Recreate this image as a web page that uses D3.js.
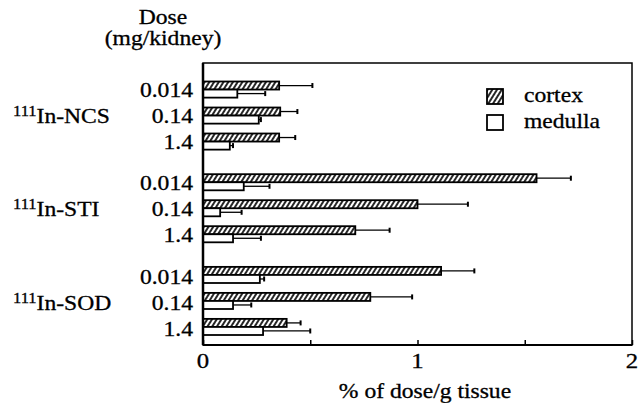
<!DOCTYPE html>
<html><head><meta charset="utf-8">
<script src="https://cdn.jsdelivr.net/npm/d3@7"></script>
<style>
html,body{margin:0;padding:0;background:#fff;}
svg{display:block;}
text{font-family:"Liberation Serif","Times New Roman",serif;fill:#000;stroke:#000;stroke-width:0.3px;}
</style></head>
<body><svg id="c" width="641" height="403"></svg>
<script>
// ---- data ----
const groups = ["NCS", "STI", "SOD"];
const doses = ["0.014", "0.14", "1.4"];
const series = ["cortex", "medulla"];
const cortexMean = [0.355, 0.36, 0.355, 1.555, 1.0, 0.71, 1.11, 0.78, 0.39];
const cortexErr  = [0.155, 0.08, 0.075, 0.16, 0.235, 0.16, 0.155, 0.195, 0.065];
const medullaMean = [0.16, 0.26, 0.125, 0.19, 0.08, 0.14, 0.265, 0.14, 0.28];
const medullaErr  = [0.13, 0.01, 0.015, 0.12, 0.10, 0.13, 0.02, 0.085, 0.22];
const xTicks = [0, 1, 2];
const xMinorTicks = [0.5, 1.5];
const xTitle = "% of dose/g tissue";
const yTitle1 = "Dose";
const yTitle2 = "(mg/kidney)";

// ---- layout ----
const svg = d3.select("#c");
const SX = 1.18; // horizontal text stretch
const FS = 20;
const pL = 203, pR = 632, pT = 63, pB = 345;

const x = d3.scaleLinear().domain([0, 2]).range([pL, pR]);
const yGroup = d3.scaleBand().domain(groups).range([81.5, 335]).paddingInner(0.265).paddingOuter(0);
const yDose = d3.scaleBand().domain(doses).range([0, yGroup.bandwidth()]).paddingInner(0.38).paddingOuter(0);
const ySer = d3.scaleBand().domain(series).range([0, yDose.bandwidth()]);

const defs = svg.append("defs");
const pat = defs.append("pattern").attr("id", "hatch").attr("patternUnits", "userSpaceOnUse")
  .attr("width", 4).attr("height", 4).attr("patternTransform", "rotate(32)");
pat.append("rect").attr("width", 4).attr("height", 4).attr("fill", "#fff");
pat.append("line").attr("x1", 1).attr("x2", 1).attr("y1", 0).attr("y2", 4)
  .attr("stroke", "#000").attr("stroke-width", 1.7);

function txt(xp, yp, s, anchor, size) {
  return svg.append("text")
    .attr("transform", `translate(${xp},${yp}) scale(${SX},1)`)
    .attr("text-anchor", anchor || "start")
    .attr("font-size", size || FS)
    .text(s);
}

// records
const recs = [];
groups.forEach((g, gi) => doses.forEach((d, di) => {
  const i = gi * 3 + di;
  recs.push({g, d, s: "cortex", v: cortexMean[i], e: cortexErr[i]});
  recs.push({g, d, s: "medulla", v: medullaMean[i], e: medullaErr[i]});
}));
const yPos = r => yGroup(r.g) + yDose(r.d) + ySer(r.s);
const bh = ySer.bandwidth();

// error bars
const eb = svg.append("g").attr("stroke", "#000").attr("stroke-width", 1.3);
recs.forEach(r => {
  const yc = yPos(r) + bh / 2;
  eb.append("line").attr("x1", x(r.v)).attr("x2", x(r.v + r.e)).attr("y1", yc).attr("y2", yc);
  eb.append("line").attr("x1", x(r.v + r.e)).attr("x2", x(r.v + r.e))
    .attr("y1", yc - 2.5).attr("y2", yc + 2.5).attr("stroke-width", 2);
});

// bars
svg.append("g").selectAll("rect").data(recs).join("rect")
  .attr("x", x(0)).attr("y", d => yPos(d))
  .attr("width", d => x(d.v) - x(0)).attr("height", bh)
  .attr("fill", d => d.s === "cortex" ? "url(#hatch)" : "#fff")
  .attr("stroke", "#000").attr("stroke-width", 1.8);

// frame
svg.append("rect").attr("x", pL).attr("y", pT).attr("width", pR - pL).attr("height", pB - pT)
  .attr("fill", "none").attr("stroke", "#000").attr("stroke-width", 1.5);
svg.append("line").attr("x1", pL).attr("x2", pL).attr("y1", pT).attr("y2", pB)
  .attr("stroke", "#000").attr("stroke-width", 2.5);
svg.append("line").attr("x1", pL).attr("x2", pR).attr("y1", pB).attr("y2", pB)
  .attr("stroke", "#000").attr("stroke-width", 2.2);

// x axis ticks (inward)
const xa = svg.append("g").attr("transform", `translate(0,${pB})`)
  .call(d3.axisBottom(x).tickValues(xTicks.concat(xMinorTicks)).tickSize(-5).tickFormat(""));
xa.select(".domain").remove();
xa.selectAll("line").attr("stroke", "#000").attr("stroke-width", 1.5);
xTicks.forEach(t => txt(x(t), 368, String(t), "middle", 21));
txt(425, 398, xTitle, "middle", 20);

// y labels
groups.forEach((g, gi) => doses.forEach(d => {
  txt(193, yGroup(g) + yDose(d) + yDose.bandwidth() / 2 + 7 + gi, d, "end", FS);
}));
const fullNames = {NCS: "In-NCS", STI: "In-STI", SOD: "In-SOD"};
groups.forEach((g, gi) => {
  const yb = yGroup(g) + yDose("0.14") + yDose.bandwidth() / 2 + 7 + gi;
  const t = txt(13, yb, "", "start", FS);
  t.append("tspan").attr("font-size", 14).attr("dy", -7).text("111");
  t.append("tspan").attr("dy", 7).text(fullNames[g]);
});
txt(163, 24, yTitle1, "middle", FS);
txt(163, 45, yTitle2, "middle", FS);

// legend
const lg = [{s: "cortex", y: 89}, {s: "medulla", y: 115}];
lg.forEach(l => {
  svg.append("rect").attr("x", 487).attr("y", l.y).attr("width", 16).attr("height", 15)
    .attr("fill", l.s === "cortex" ? "url(#hatch)" : "#fff").attr("stroke", "#000").attr("stroke-width", 1.8);
  txt(524, l.y + 13, l.s, "start", FS);
});
</script></body></html>
